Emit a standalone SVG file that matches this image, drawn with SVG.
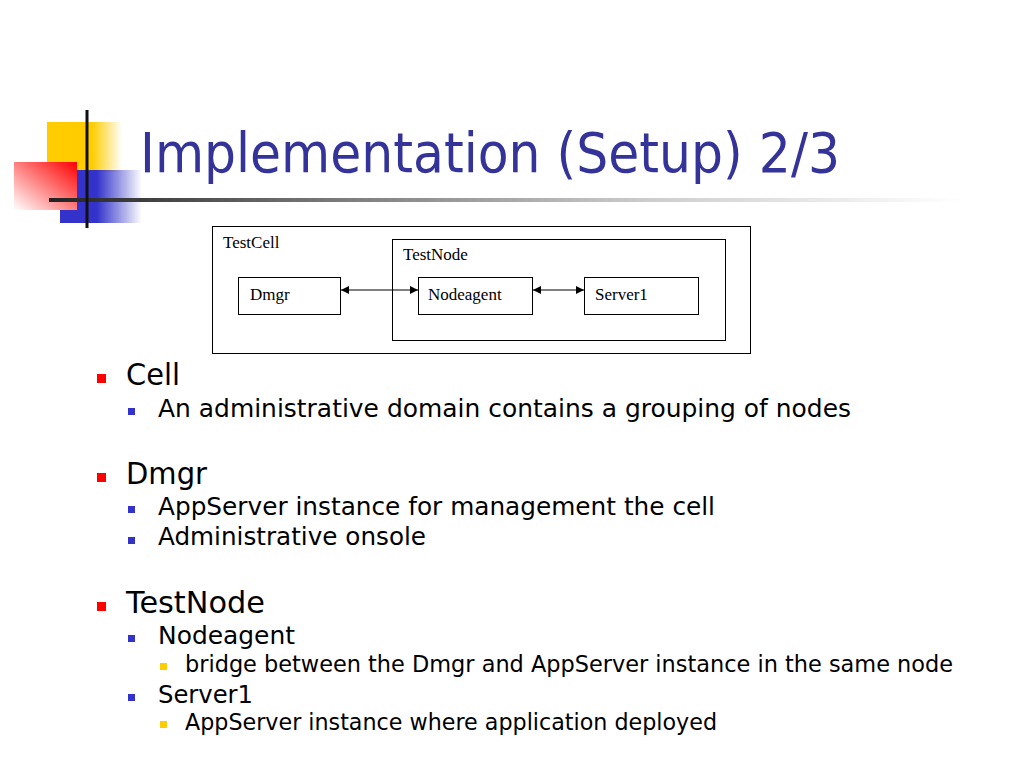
<svg xmlns="http://www.w3.org/2000/svg" width="1024" height="768" viewBox="0 0 1024 768">
<style>
.t{font-family:"DejaVu Sans","Liberation Sans",sans-serif;fill:#000}
.title{font-family:"DejaVu Sans","Liberation Sans",sans-serif;fill:#333399;font-size:56px}
.l1{font-size:30px}
.l2{font-size:25px}
.l3{font-size:23px}
.d{font-family:"Liberation Serif","Times New Roman",serif;font-size:17px;fill:#000}
.box{fill:#fff;stroke:#000;stroke-width:1}
.conn{stroke:#000;stroke-width:1.2;fill:none;marker-start:url(#ah);marker-end:url(#ah)}
</style>
<defs>
<linearGradient id="gy" x1="0" y1="0" x2="1" y2="0">
<stop offset="0" stop-color="#ffcc00"/><stop offset="0.6" stop-color="#ffcc00"/><stop offset="1" stop-color="#ffcc00" stop-opacity="0"/>
</linearGradient>
<linearGradient id="gb" x1="0" y1="0" x2="1" y2="0">
<stop offset="0" stop-color="#3333cc"/><stop offset="0.45" stop-color="#3333cc"/><stop offset="1" stop-color="#3333cc" stop-opacity="0"/>
</linearGradient>
<linearGradient id="gr" x1="1" y1="0" x2="0" y2="1">
<stop offset="0" stop-color="#ff0000"/><stop offset="1" stop-color="#ffffff"/>
</linearGradient>
<linearGradient id="gl" x1="0" y1="0" x2="1" y2="0">
<stop offset="0" stop-color="#222"/><stop offset="0.3" stop-color="#777"/><stop offset="0.65" stop-color="#ccc"/><stop offset="1" stop-color="#fff"/>
</linearGradient>
<marker id="ah" viewBox="0 0 10 10" refX="10" refY="5" markerWidth="8" markerHeight="8" markerUnits="userSpaceOnUse" orient="auto-start-reverse">
<path d="M0,0 L10,5 L0,10 z" fill="#000"/>
</marker>
</defs>
<rect width="1024" height="768" fill="#fff"/>
<g id="decoration">
<rect x="47" y="122" width="75" height="50" fill="url(#gy)"/>
<rect x="60" y="170" width="82" height="53" fill="url(#gb)"/>
<rect x="14" y="162" width="63" height="48" fill="url(#gr)"/>
<rect x="49" y="198" width="915" height="4" fill="url(#gl)"/>
<rect x="85.5" y="110" width="3" height="118" fill="#111"/>
</g>
<text class="title" x="140" y="172" textLength="700" lengthAdjust="spacingAndGlyphs">Implementation (Setup) 2/3</text>
<g id="TestCell"><rect class="box" x="212.5" y="226.5" width="538" height="127"/><text class="d" x="223" y="248">TestCell</text></g>
<g id="TestNode"><rect class="box" x="392.5" y="239.5" width="333" height="101"/><text class="d" x="403" y="260">TestNode</text></g>
<g id="Dmgr"><rect class="box" x="238.5" y="277.5" width="102" height="37"/><text class="d" x="250" y="300">Dmgr</text></g>
<g id="Nodeagent"><rect class="box" x="418.5" y="277.5" width="114" height="37"/><text class="d" x="428" y="300">Nodeagent</text></g>
<g id="Server1"><rect class="box" x="584.5" y="277.5" width="114" height="37"/><text class="d" x="595" y="300">Server1</text></g>
<g id="connectors">
<line class="conn" x1="341" y1="290" x2="418" y2="290"/>
<line class="conn" x1="533" y1="290" x2="584" y2="290"/>
</g>
<g id="bullets">
<rect x="97" y="374" width="9" height="9" fill="#ff0000"/>
<text class="t l1" x="126" y="385" textLength="54" lengthAdjust="spacingAndGlyphs">Cell</text>
<rect x="128" y="408" width="7" height="7" fill="#3333cc"/>
<text class="t l2" x="158" y="417" textLength="693" lengthAdjust="spacingAndGlyphs">An administrative domain contains a grouping of nodes</text>
<rect x="97" y="473" width="9" height="9" fill="#ff0000"/>
<text class="t l1" x="126" y="484" textLength="81" lengthAdjust="spacingAndGlyphs">Dmgr</text>
<rect x="128" y="506" width="7" height="7" fill="#3333cc"/>
<text class="t l2" x="158" y="515" textLength="557" lengthAdjust="spacingAndGlyphs">AppServer instance for management the cell</text>
<rect x="128" y="537" width="7" height="7" fill="#3333cc"/>
<text class="t l2" x="158" y="545" textLength="268" lengthAdjust="spacingAndGlyphs">Administrative onsole</text>
<rect x="97" y="602" width="9" height="9" fill="#ff0000"/>
<text class="t l1" x="126" y="613" textLength="139" lengthAdjust="spacingAndGlyphs">TestNode</text>
<rect x="128" y="635" width="7" height="7" fill="#3333cc"/>
<text class="t l2" x="158" y="644" textLength="137" lengthAdjust="spacingAndGlyphs">Nodeagent</text>
<rect x="160" y="663" width="7" height="7" fill="#ffcc00"/>
<text class="t l3" x="185" y="672" textLength="768" lengthAdjust="spacingAndGlyphs">bridge between the Dmgr and AppServer instance in the same node</text>
<rect x="128" y="694" width="7" height="7" fill="#3333cc"/>
<text class="t l2" x="158" y="703" textLength="95" lengthAdjust="spacingAndGlyphs">Server1</text>
<rect x="160" y="721" width="7" height="7" fill="#ffcc00"/>
<text class="t l3" x="185" y="730" textLength="532" lengthAdjust="spacingAndGlyphs">AppServer instance where application deployed</text>
</g>
</svg>
